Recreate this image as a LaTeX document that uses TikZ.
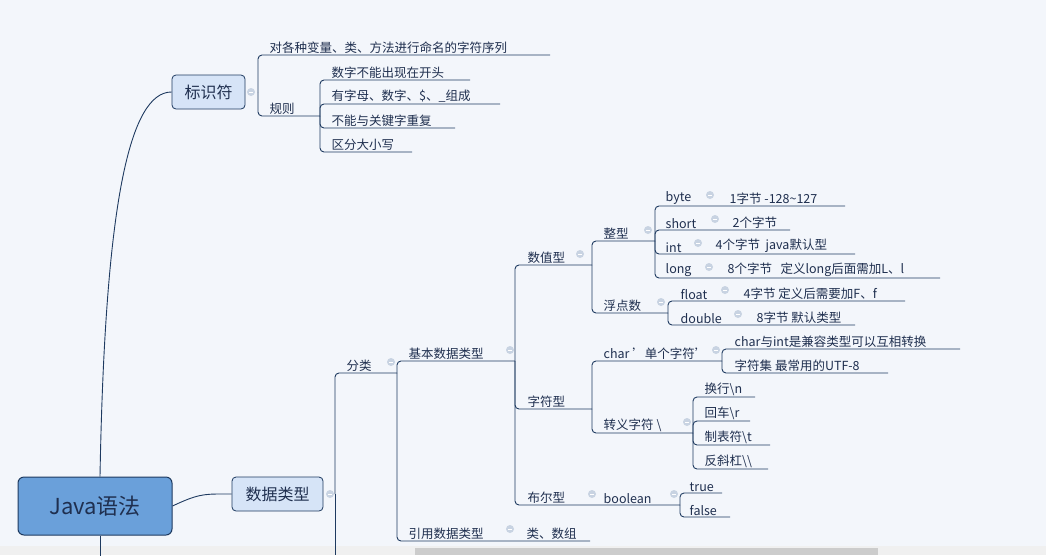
\documentclass[tikz,border=0pt]{standalone}
\usepackage{fontspec}
\setmainfont{Noto Sans CJK SC}
\begin{document}
\begin{tikzpicture}[x=1pt,y=-1pt,
  ln/.style={draw=lc,line width=0.9pt,rounded corners=4pt},
  tx/.style={anchor=south west,inner sep=1.5pt,text=tc,font=\fontsize{12.5}{14}\selectfont},
  ic/.style={circle,fill=icc,inner sep=0pt,minimum size=8pt,path picture={\draw[white,line width=0.8pt] ([xshift=-2pt]path picture bounding box.center)--([xshift=2pt]path picture bounding box.center);}}]
\definecolor{lc}{HTML}{1E3A60}
\definecolor{tc}{HTML}{1F2F4F}
\definecolor{icc}{HTML}{C8D3E2}
\definecolor{bg}{HTML}{F3F6FB}
\fill[bg] (0,0) rectangle (1046,555);
\useasboundingbox (0,0) rectangle (1046,555);
\fill[black!6] (0,546) rectangle (1046,555);
\fill[black!20] (415,548) rectangle (878,555);
% root
\node[draw=lc,line width=1pt,fill={rgb,255:red,106;green,160;blue,218},rounded corners=6pt,minimum width=154pt,minimum height=58pt,font=\fontsize{22}{24}\selectfont,text=tc] (root) at (95,506) {Java语法};
\node[draw=lc,line width=0.8pt,fill={rgb,255:red,214;green,228;blue,247},rounded corners=4pt,minimum width=73pt,minimum height=34pt,font=\fontsize{16}{18}\selectfont,text=tc] (bs) at (208.5,92) {标识符};
\node[draw=lc,line width=0.8pt,fill={rgb,255:red,214;green,228;blue,247},rounded corners=4pt,minimum width=91pt,minimum height=34pt,font=\fontsize{16}{18}\selectfont,text=tc] (sj) at (277.5,494) {数据类型};
\draw[lc,line width=0.9pt] (root.north) ++(5,0) coordinate (r1) .. controls (105,200) and (130,92) .. (bs.west);
\draw[lc,line width=0.9pt] (root.east) .. controls (200,493) and (205,494) .. (sj.west);
\draw[lc,line width=0.9pt] (root.south) ++(5,0) -- ++(0,20);
% 标识符 branch
\node[ic] at (251,92) {};
\coordinate (p1) at (258,92);
\draw[ln] (p1) |- (550,55); \node[tx] at (268,55) {对各种变量、类、方法进行命名的字符序列};
\draw[ln] (p1) |- (320,116); \node[tx] at (268,116) {规则};
\coordinate (p2) at (320,116);
\draw[ln] (p2) |- (470,80); \node[tx] at (330,80) {数字不能出现在开头};
\draw[ln] (p2) |- (500,104); \node[tx] at (330,104) {有字母、数字、\$、\_组成};
\draw[ln] (p2) |- (455,128); \node[tx] at (330,128) {不能与关键字重复};
\draw[ln] (p2) |- (412,152); \node[tx] at (330,152) {区分大小写};
% 数据类型 branch
\node[ic] at (330,494) {};
\draw[lc,line width=0.9pt] (335,494) -- (335,555);
\coordinate (p3) at (335,494);
\draw[ln] (p3) |- (397,373); \node[tx] at (345,373) {分类};
\node[ic] at (391,362) {};
\coordinate (p4) at (397,373);
\draw[ln] (p4) |- (515,361); \node[tx] at (407,361) {基本数据类型};
\draw[ln] (p4) |- (590,541); \node[tx] at (407,541) {引用数据类型}; \node[ic] at (510,529) {}; \node[tx] at (525,541) {类、数组};
\node[ic] at (510,350) {};
\coordinate (p5) at (515,361);
\draw[ln] (p5) |- (592,265); \node[tx] at (526,265) {数值型}; \node[ic] at (580,254) {};
\draw[ln] (p5) |- (592,409); \node[tx] at (526,409) {字符型};
\draw[ln] (p5) |- (680,505); \node[tx] at (526,505) {布尔型}; \node[ic] at (592,494) {}; \node[tx] at (602,505) {boolean}; \node[ic] at (674,494) {};
% 数值型
\coordinate (p6) at (592,265);
\draw[ln] (p6) |- (655,241); \node[tx] at (602,241) {整型}; \node[ic] at (648,230) {};
\draw[ln] (p6) |- (668,313); \node[tx] at (602,313) {浮点数}; \node[ic] at (661,302) {};
\coordinate (p7) at (655,241);
\draw[ln] (p7) |- (845,206); \node[tx] at (664,206) {byte}; \node[ic] at (710,195) {}; \node[tx] at (728,206) {1字节 -128\textasciitilde127};
\draw[ln] (p7) |- (790,230); \node[tx] at (664,230) {short}; \node[ic] at (715,219) {}; \node[tx] at (731,230) {2个字节};
\draw[ln] (p7) |- (855,254); \node[tx] at (664,254) {int}; \node[ic] at (698,243) {}; \node[tx] at (714,254) {4个字节\ \ java默认型};
\draw[ln] (p7) |- (940,278); \node[tx] at (664,278) {long}; \node[ic] at (709,267) {}; \node[tx] at (726,278) {8个字节\ \ \ 定义long后面需加L、l};
\coordinate (p8) at (668,313);
\draw[ln] (p8) |- (905,301); \node[tx] at (679,301) {float}; \node[ic] at (725,290) {}; \node[tx] at (742,301) {4字节 定义后需要加F、f};
\draw[ln] (p8) |- (855,325); \node[tx] at (679,325) {double}; \node[ic] at (738,314) {}; \node[tx] at (755,325) {8字节 默认类型};
% 字符型
\coordinate (p9) at (592,409);
\draw[ln] (p9) |- (722,361); \node[tx] at (602,361) {char '单个字符'}; \node[ic] at (716,350) {};
\draw[ln] (p9) |- (693,433); \node[tx] at (602,433) {转义字符 \textbackslash}; \node[ic] at (687,422) {};
\coordinate (p10) at (722,361);
\draw[ln] (p10) |- (960,349); \node[tx] at (733,349) {char与int是兼容类型可以互相转换};
\draw[ln] (p10) |- (888,373); \node[tx] at (733,373) {字符集 最常用的UTF-8};
\coordinate (p11) at (693,433);
\draw[ln] (p11) |- (755,397); \node[tx] at (703,397) {换行\textbackslash n};
\draw[ln] (p11) |- (750,421); \node[tx] at (703,421) {回车\textbackslash r};
\draw[ln] (p11) |- (770,445); \node[tx] at (703,445) {制表符\textbackslash t};
\draw[ln] (p11) |- (768,469); \node[tx] at (703,469) {反斜杠\textbackslash\textbackslash};
% boolean
\coordinate (p12) at (680,505);
\draw[ln] (p12) |- (722,493); \node[tx] at (688,493) {true};
\draw[ln] (p12) |- (730,517); \node[tx] at (688,517) {false};
\end{tikzpicture}
\end{document}
